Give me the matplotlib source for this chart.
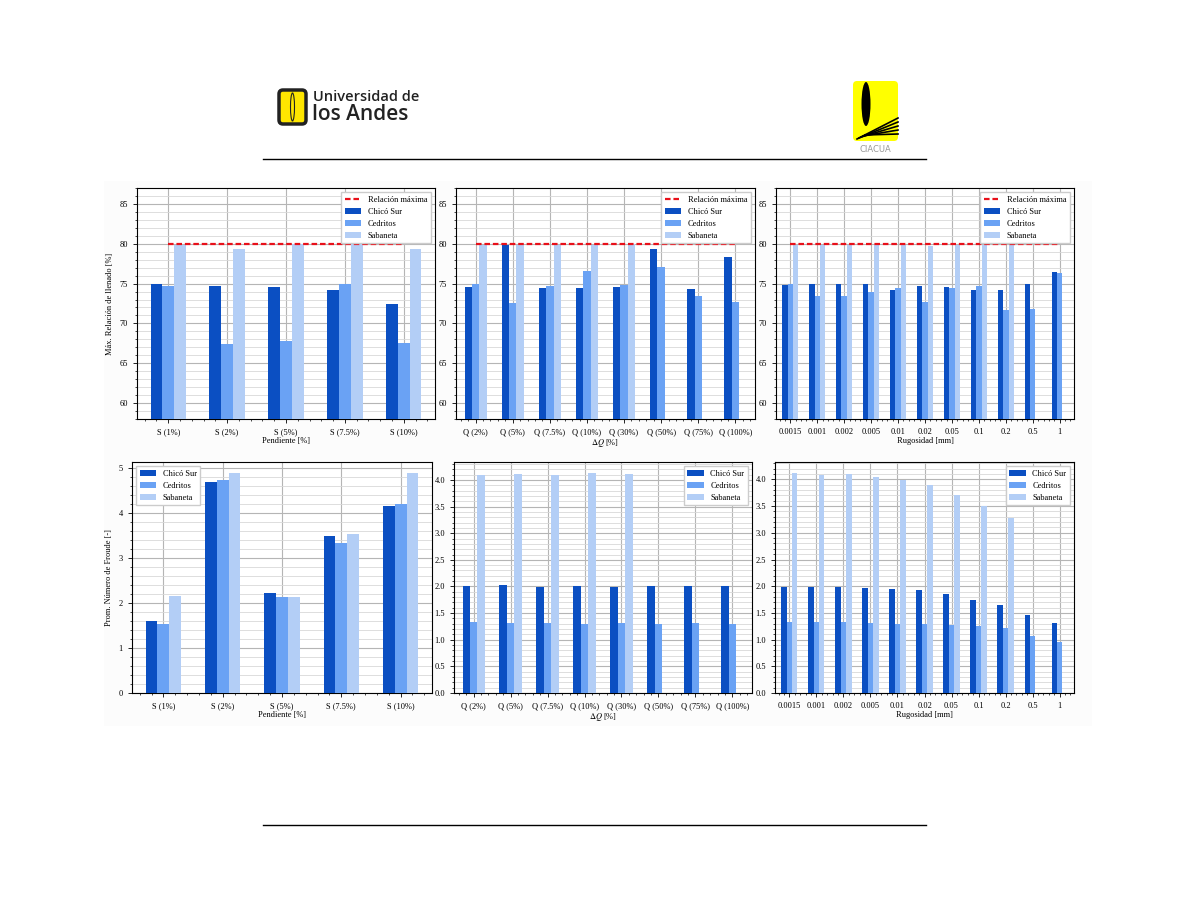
import numpy as np
import matplotlib
matplotlib.use('Agg')
import matplotlib.pyplot as plt
from matplotlib.ticker import AutoMinorLocator
from matplotlib.patches import FancyBboxPatch, Rectangle, Ellipse

plt.rcParams['font.family'] = ['Liberation Serif', 'DejaVu Serif']
plt.rcParams['mathtext.fontset'] = 'stix'

series = ['Chicó Sur', 'Cedritos', 'Sabaneta']
colors = ['#0b4fc2', '#6aa2f4', '#b3cef6']

# pendiente
cat_s = ['S (1%)', 'S (2%)', 'S (5%)', 'S (7.5%)', 'S (10%)']
llen_s_chico = [74.9, 74.7, 74.6, 74.2, 72.4]
llen_s_ced = [74.7, 67.4, 67.8, 74.9, 67.6]
llen_s_sab = [79.9, 79.4, 80.0, 80.0, 79.4]
fr_s_chico = [1.60, 4.68, 2.22, 3.48, 4.16]
fr_s_ced = [1.53, 4.74, 2.13, 3.34, 4.21]
fr_s_sab = [2.15, 4.89, 2.13, 3.53, 4.89]

# caudal
cat_q = ['Q (2%)', 'Q (5%)', 'Q (7.5%)', 'Q (10%)', 'Q (30%)', 'Q (50%)', 'Q (75%)', 'Q (100%)']
llen_q_chico = [74.6, 79.8, 74.5, 74.5, 74.6, 79.3, 74.3, 78.4]
llen_q_ced = [74.9, 72.6, 74.7, 76.6, 74.8, 77.1, 73.5, 72.7]
llen_q_sab = [79.8, 79.8, 79.9, 79.9, 80.0, np.nan, np.nan, np.nan]
fr_q_chico = [2.00, 2.02, 1.99, 2.00, 1.99, 2.00, 2.00, 2.00]
fr_q_ced = [1.33, 1.31, 1.32, 1.30, 1.32, 1.30, 1.32, 1.30]
fr_q_sab = [4.09, 4.11, 4.09, 4.13, 4.11, np.nan, np.nan, np.nan]

# rugosidad
cat_r = ['0.0015', '0.001', '0.002', '0.005', '0.01', '0.02', '0.05', '0.1', '0.2', '0.5', '1']
llen_r_chico = [74.8, 74.9, 75.0, 74.9, 74.2, 74.7, 74.6, 74.2, 74.2, 74.9, 76.5]
llen_r_ced = [74.9, 73.4, 73.5, 73.9, 74.5, 72.7, 74.4, 74.7, 71.7, 71.8, 76.3]
llen_r_sab = [79.9, 79.9, 79.9, 79.9, 79.9, 79.75, 79.9, 79.9, 79.9, np.nan, np.nan]
fr_r_chico = [1.99, 1.99, 1.99, 1.97, 1.95, 1.92, 1.85, 1.75, 1.65, 1.46, 1.32]
fr_r_ced = [1.33, 1.33, 1.33, 1.31, 1.30, 1.30, 1.27, 1.25, 1.21, 1.07, 0.96]
fr_r_sab = [4.12, 4.09, 4.11, 4.05, 3.99, 3.90, 3.70, 3.50, 3.27, np.nan, np.nan]

rel_max = 80

W, H = 1188, 918
fig = plt.figure(figsize=(W / 100, H / 100), dpi=100)

# page decorations in pixel coords
page = fig.add_axes([0, 0, 1, 1], zorder=-1)
page.set_xlim(0, W)
page.set_ylim(H, 0)
page.axis('off')
page.add_patch(Rectangle((104, 181), 988, 545, color='#fcfcfc', lw=0))
page.plot([263, 926], [159, 159], color='black', lw=1)
page.plot([263, 926], [825, 825], color='black', lw=1)
# logo uniandes
page.add_patch(FancyBboxPatch((279, 90), 27, 34, boxstyle='round,pad=0,rounding_size=4',
                              fc='#ffe600', ec='#222222', lw=2.5))
page.add_patch(Ellipse((292.5, 107), 4, 28, fc='none', ec='#222222', lw=0.8))
page.text(313, 97, 'Universidad de', fontsize=10.5, family='Open Sans', weight='semibold',
          color='#222222', va='center', ha='left')
page.text(312, 114, 'los Andes', fontsize=15, family='Open Sans', weight='semibold',
          color='#222222', va='center', ha='left')
# logo ciacua
page.add_patch(FancyBboxPatch((853, 81), 45, 60, boxstyle='round,pad=0,rounding_size=4',
                              fc='#ffff00', ec='none'))
page.add_patch(Ellipse((866, 104), 9, 44, fc='black', ec='none'))
for k in range(5):
    page.plot([857 + k * 2, 898], [139 - k * 1, 118 + k * 4], color='black', lw=1.2)
page.text(875.5, 149, 'CIACUA', fontsize=6, family='DejaVu Sans', color='#999999',
          ha='center', va='center')


def draw_panel(rect, cats, chico, ced, sab, xlabel, ylabel=None, top=False, loc='upper right'):
    ax = fig.add_axes([rect[0] / W, 1 - rect[3] / H, (rect[2] - rect[0]) / W, (rect[3] - rect[1]) / H])
    x = np.arange(len(cats))
    w = 0.2
    if top:
        ax.plot(x, [rel_max] * len(x), color='#e8101a', ls=(0, (2.5, 1.3)), lw=1.6,
                label='Relación máxima', zorder=4)
    ax.bar(x - w, chico, w, color=colors[0], label=series[0], zorder=3)
    ax.bar(x, ced, w, color=colors[1], label=series[1], zorder=3)
    ax.bar(x + w, sab, w, color=colors[2], label=series[2], zorder=3)
    ax.set_xticks(x)
    ax.set_xticklabels(cats)
    ax.set_xlim(-0.53, len(x) - 1 + 0.53)
    if top:
        ax.set_ylim(58, 87)
    else:
        vals = np.concatenate([chico, ced, sab])
        ax.set_ylim(0, np.nanmax(vals) * 1.05)
    ax.yaxis.set_minor_locator(AutoMinorLocator())
    ax.xaxis.set_minor_locator(AutoMinorLocator())
    ax.grid(which='major', color='#b5b5b5', lw=0.8, zorder=0)
    ax.grid(which='minor', axis='y', color='#d8d8d8', lw=0.6, zorder=0)
    ax.tick_params(which='major', labelsize=6, length=3, width=0.6)
    ax.tick_params(which='minor', length=1.5, width=0.5)
    ax.set_xlabel(xlabel, fontsize=6, labelpad=1)
    if ylabel:
        ax.set_ylabel(ylabel, fontsize=6)
    ax.legend(loc=loc, fontsize=6, fancybox=False, framealpha=1, edgecolor='#cccccc')
    return ax


draw_panel((137, 188, 435, 419), cat_s, llen_s_chico, llen_s_ced, llen_s_sab,
           'Pendiente [%]', 'Máx. Relación de llenado [%]', top=True)
draw_panel((456, 188, 755, 419), cat_q, llen_q_chico, llen_q_ced, llen_q_sab,
           r'$\Delta Q$ [%]', top=True)
draw_panel((776, 188, 1074, 419), cat_r, llen_r_chico, llen_r_ced, llen_r_sab,
           'Rugosidad [mm]', top=True)
draw_panel((132, 462, 432, 693), cat_s, fr_s_chico, fr_s_ced, fr_s_sab,
           'Pendiente [%]', 'Prom. Número de Froude [-]', loc='upper left')
draw_panel((454, 462, 752, 693), cat_q, fr_q_chico, fr_q_ced, fr_q_sab,
           r'$\Delta Q$ [%]')
draw_panel((775, 462, 1074, 693), cat_r, fr_r_chico, fr_r_ced, fr_r_sab,
           'Rugosidad [mm]')

plt.savefig('out.png', dpi=100)
